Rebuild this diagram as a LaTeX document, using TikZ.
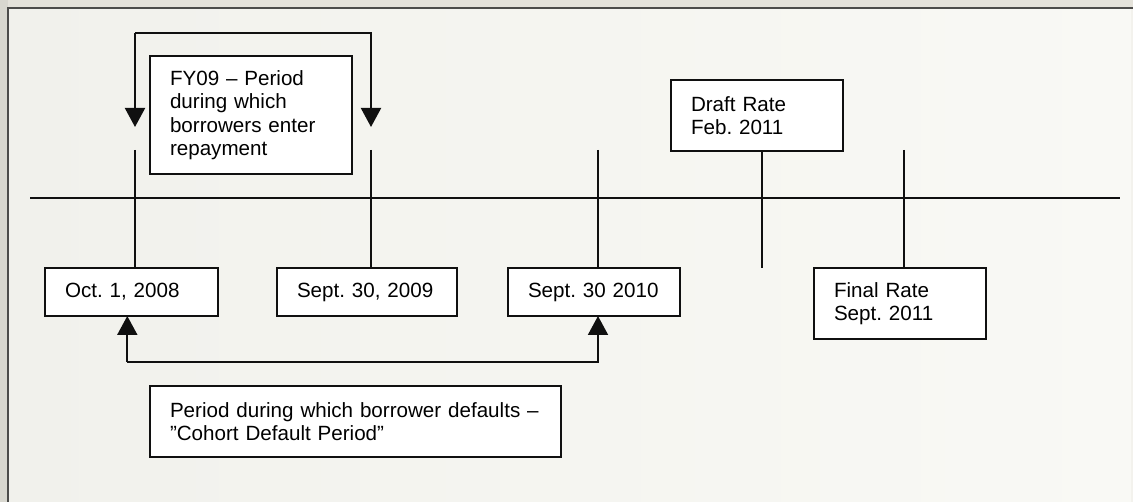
\documentclass[tikz,border=0pt]{standalone}
\usepackage{fontspec}
\setmainfont{Liberation Sans}
\usetikzlibrary{arrows.meta}
\frenchspacing
\newcommand\myboxfont{\fontsize{20.6}{23.5}\selectfont\frenchspacing\hyphenpenalty 10000 \exhyphenpenalty 10000 \hbadness 10000 \hfuzz 100pt\relax}
\definecolor{outerbg}{HTML}{E4E2DA}
\definecolor{leftstrip}{HTML}{D8D7CF}
\definecolor{panelL}{HTML}{F1F1EC}
\definecolor{panelR}{HTML}{F9F9F5}
\definecolor{framecol}{HTML}{4C4C4A}
\definecolor{inkcol}{HTML}{101010}
\tikzset{
  tbox/.style={draw=inkcol, line width=2pt, fill=white, align=left,
    inner xsep=20pt, inner ysep=0pt, outer sep=0pt, anchor=center,
    font=\myboxfont},
  tline/.style={draw=inkcol, line width=2pt},
  tarrow/.style={draw=inkcol, line width=2pt,
    -{Triangle[width=20pt,length=19pt]}, line join=miter},
}
\begin{document}
\begin{tikzpicture}[x=1pt,y=-1pt]
% background and frame
\fill[outerbg] (0,0) rectangle (1133,502);
\useasboundingbox (0,0) rectangle (1133,502);
\fill[leftstrip] (0,0) rectangle (8,502);
\shade[left color=panelL, right color=panelR] (8,8) rectangle (1131,502);
\fill[panelR!70!outerbg] (1131,8) rectangle (1133,502);
\draw[framecol, line width=1.5pt] (8,502) -- (8,8) -- (1133,8);

% timeline
\coordinate (tl) at (30,198);
\coordinate (tr) at (1120,198);
\draw[tline] (tl) -- (tr);

% boxes
\node[tbox, text width=162pt, minimum height=118pt] (fy) at (251,115)
  {FY09~--~Period\\during~which\\borrowers~enter\\repayment};
\node[tbox, text width=132pt, minimum height=71pt] (draft) at (757,115.5)
  {Draft~Rate\\Feb.~2011};
\node[tbox, text width=133pt, minimum height=48pt] (oct) at (131.5,292)
  {Oct.~1,~2008};
\node[tbox, text width=140pt, minimum height=48pt] (s09) at (367,292)
  {Sept.~30,~2009};
\node[tbox, text width=132pt, minimum height=48pt] (s10) at (594,292)
  {Sept.~30~2010};
\node[tbox, text width=132pt, minimum height=71pt] (final) at (900,303.5)
  {Final~Rate\\Sept.~2011};
\node[tbox, text width=371pt, minimum height=71pt] (cohort) at (355.5,421.5)
  {Period~during~which~borrower~defaults~--\\”Cohort~Default~Period”};

% ticks
\coordinate (k1) at (135,150);
\coordinate (k2) at (371,150);
\coordinate (k3) at (598,150);
\coordinate (k4) at (762,268);
\coordinate (k5) at (904,150);
\draw[tline] (k1) -- (k1 |- oct.north);
\draw[tline] (k2) -- (k2 |- s09.north);
\draw[tline] (k3) -- (k3 |- s10.north);
\draw[tline] (k4 |- draft.south) -- (k4);
\draw[tline] (k5) -- (k5 |- final.north);

% top bracket
\coordinate (ta1) at (135,127);
\coordinate (ta2) at (371,127);
\coordinate (tb) at (0,33);
\draw[tarrow] (tb -| ta1) -- (ta1);
\draw[tarrow] (tb -| ta1) -- (tb -| ta2) -- (ta2);

% bottom bracket
\coordinate (bb) at (0,362);
\draw[tarrow] ([xshift=-4.2pt]oct.south |- bb) -- ([xshift=-4.2pt]oct.south);
\draw[tarrow] ([xshift=-4.2pt]oct.south |- bb) -- ([xshift=4pt]s10.south |- bb) -- ([xshift=4pt]s10.south);
\end{tikzpicture}
\end{document}
